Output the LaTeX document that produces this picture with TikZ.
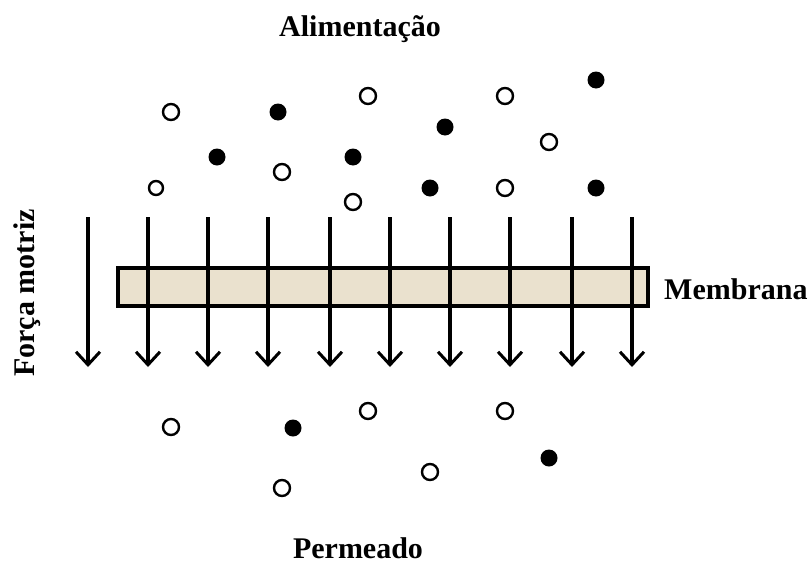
\documentclass[tikz,border=0pt]{standalone}
\usepackage{fontspec}
\setmainfont{Liberation Serif}
\usetikzlibrary{arrows.meta}
\definecolor{membr}{RGB}{234,225,206}
\tikzset{
  flow/.style={line width=3.2pt,-{Straight Barb[length=13pt,width=24pt,line width=3pt]}},
  open/.style={circle,draw=black,line width=2.4pt,fill=white,minimum size=16pt,inner sep=0pt},
  solid/.style={circle,fill=black,minimum size=17pt,inner sep=0pt},
  lbl/.style={font=\bfseries\fontsize{30}{34}\selectfont,inner sep=0pt},
}
\begin{document}
\begin{tikzpicture}[x=1pt,y=-1pt]
\useasboundingbox (0,0) rectangle (811,565);
% membrane
\node[draw=black,line width=3.2pt,fill=membr,minimum width=530pt,minimum height=38pt,inner sep=0pt] (mem) at (383,287) {};
% driving-force arrows
\foreach \x [count=\i] in {88,148,208,268,330,390,450,510,572,632}{
  \coordinate (t\i) at (\x,217);
  \coordinate (b\i) at (\x,367);
  \draw[flow] (t\i) -- (b\i);
}
% feed particles
\foreach \x/\y [count=\i] in {171/112,368/96,505/96,549/142,282/172,353/202,505/188}
  \node[open] (fo\i) at (\x,\y) {};
\node[open,minimum size=14pt] (fo8) at (156,188) {};
\foreach \x/\y [count=\i] in {278/112,445/127,596/80,217/157,353/157,430/188,596/188}
  \node[solid] (ff\i) at (\x,\y) {};
% permeate particles
\foreach \x/\y [count=\i] in {171/427,368/411,505/411,430/472,282/488}
  \node[open] (po\i) at (\x,\y) {};
\foreach \x/\y [count=\i] in {293/428,549/458}
  \node[solid] (pf\i) at (\x,\y) {};
% labels
\node[lbl,anchor=base] (feed) at (360,36) {Alimentação};
\node[lbl,anchor=base] (perm) at (358,558) {Permeado};
\node[lbl,anchor=west] (mlab) at (664,289) {Membrana};
\node[lbl,rotate=90] (force) at (27,293) {Força motriz};
\end{tikzpicture}
\end{document}
